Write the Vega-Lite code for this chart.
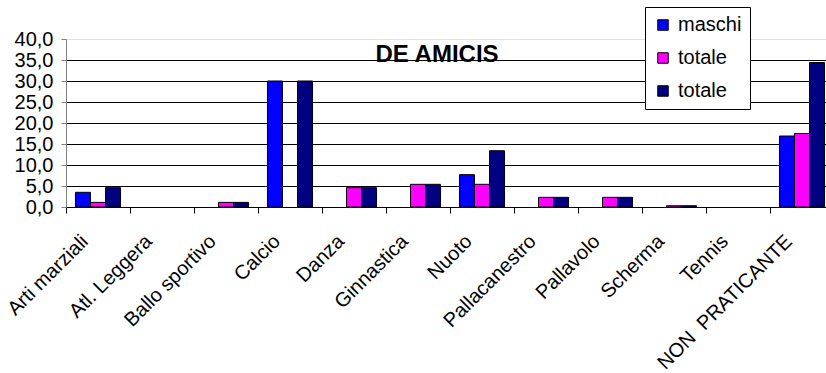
{
  "$schema": "https://vega.github.io/schema/vega-lite/v6.json",
  "autosize": {"type": "none"},
  "padding": {"left": 66, "top": 39, "right": 0, "bottom": 166},
  "width": 760,
  "height": 168,
  "background": "white",
  "title": {"text": "DE AMICIS", "font": "Liberation Sans", "fontSize": 24, "fontWeight": "bold", "color": "black", "anchor": "middle", "baseline": "alphabetic", "offset": 0, "dx": -9, "dy": 79},
  "data": {"values": [
    {"cat": "Arti marziali", "serie": "maschi", "v": 3.5},
    {"cat": "Arti marziali", "serie": "totale", "v": 1.1},
    {"cat": "Arti marziali", "serie": "totale ", "v": 4.6},
    {"cat": "Atl. Leggera", "serie": "maschi", "v": 0},
    {"cat": "Atl. Leggera", "serie": "totale", "v": 0},
    {"cat": "Atl. Leggera", "serie": "totale ", "v": 0},
    {"cat": "Ballo sportivo", "serie": "maschi", "v": 0},
    {"cat": "Ballo sportivo", "serie": "totale", "v": 1.1},
    {"cat": "Ballo sportivo", "serie": "totale ", "v": 1.1},
    {"cat": "Calcio", "serie": "maschi", "v": 30.0},
    {"cat": "Calcio", "serie": "totale", "v": 0},
    {"cat": "Calcio", "serie": "totale ", "v": 30.0},
    {"cat": "Danza", "serie": "maschi", "v": 0},
    {"cat": "Danza", "serie": "totale", "v": 4.6},
    {"cat": "Danza", "serie": "totale ", "v": 4.6},
    {"cat": "Ginnastica", "serie": "maschi", "v": 0},
    {"cat": "Ginnastica", "serie": "totale", "v": 5.4},
    {"cat": "Ginnastica", "serie": "totale ", "v": 5.4},
    {"cat": "Nuoto", "serie": "maschi", "v": 7.7},
    {"cat": "Nuoto", "serie": "totale", "v": 5.4},
    {"cat": "Nuoto", "serie": "totale ", "v": 13.4},
    {"cat": "Pallacanestro", "serie": "maschi", "v": 0},
    {"cat": "Pallacanestro", "serie": "totale", "v": 2.3},
    {"cat": "Pallacanestro", "serie": "totale ", "v": 2.3},
    {"cat": "Pallavolo", "serie": "maschi", "v": 0},
    {"cat": "Pallavolo", "serie": "totale", "v": 2.3},
    {"cat": "Pallavolo", "serie": "totale ", "v": 2.3},
    {"cat": "Scherma", "serie": "maschi", "v": 0},
    {"cat": "Scherma", "serie": "totale", "v": 0.3},
    {"cat": "Scherma", "serie": "totale ", "v": 0.3},
    {"cat": "Tennis", "serie": "maschi", "v": 0},
    {"cat": "Tennis", "serie": "totale", "v": 0},
    {"cat": "Tennis", "serie": "totale ", "v": 0},
    {"cat": "NON \u00a0PRATICANTE", "serie": "maschi", "v": 16.9},
    {"cat": "NON \u00a0PRATICANTE", "serie": "totale", "v": 17.5},
    {"cat": "NON \u00a0PRATICANTE", "serie": "totale ", "v": 34.4}
  ]},
  "transform": [{"filter": "datum.v > 0"}],
  "mark": {"type": "bar", "stroke": "black", "strokeWidth": 1},
  "encoding": {
    "x": {
      "field": "cat", "type": "nominal", "sort": null,
      "scale": {"range": [0, 768], "paddingInner": 0, "paddingOuter": 0,
        "domain": ["Arti marziali", "Atl. Leggera", "Ballo sportivo", "Calcio", "Danza", "Ginnastica", "Nuoto", "Pallacanestro", "Pallavolo", "Scherma", "Tennis", "NON \u00a0PRATICANTE"]},
      "axis": {"title": null, "bandPosition": 0, "labelAngle": -45, "labelAlign": "right", "labelBaseline": "middle",
        "labelFont": "Liberation Sans", "labelFontSize": 20, "labelColor": "black", "labelPadding": 25, "labelOffset": -13, "labelLimit": 0,
        "domainColor": "black", "tickColor": "black", "tickSize": 6, "grid": false}
    },
    "xOffset": {"field": "serie", "type": "nominal", "scale": {"domain": ["maschi", "totale", "totale "], "paddingInner": 0, "paddingOuter": 0.63}},
    "y": {
      "field": "v", "type": "quantitative",
      "scale": {"domain": [0, 40], "nice": false, "zero": true},
      "axis": {"title": null, "values": [0, 5, 10, 15, 20, 25, 30, 35, 40],
        "labelExpr": "replace(format(datum.value, '.1f'), '.', ',')",
        "labelFont": "Liberation Sans", "labelFontSize": 20, "labelColor": "black", "labelPadding": 8,
        "grid": true, "gridColor": {"condition": {"test": "datum.value == 40", "value": "#e0e0e0"}, "value": "black"}, "gridOpacity": 1,
        "domainColor": "#808080", "tickColor": "#808080", "tickSize": 5}
    },
    "color": {
      "field": "serie", "type": "nominal",
      "scale": {"domain": ["maschi", "totale", "totale "], "range": ["#0000FF", "#FF00FF", "#000080"]},
      "legend": {"title": null, "orient": "none", "legendX": 579, "legendY": -32,
        "fillColor": "white", "strokeColor": "black", "padding": 8, "rowPadding": 13,
        "symbolType": "square", "symbolSize": 110, "symbolStrokeColor": "black", "symbolStrokeWidth": 1, "symbolOpacity": 1,
        "labelFont": "Liberation Sans", "labelFontSize": 20, "labelColor": "black", "labelOffset": 5}
    }
  },
  "config": {"view": {"stroke": null}, "axis": {"domainWidth": 1, "tickWidth": 1}}
}
